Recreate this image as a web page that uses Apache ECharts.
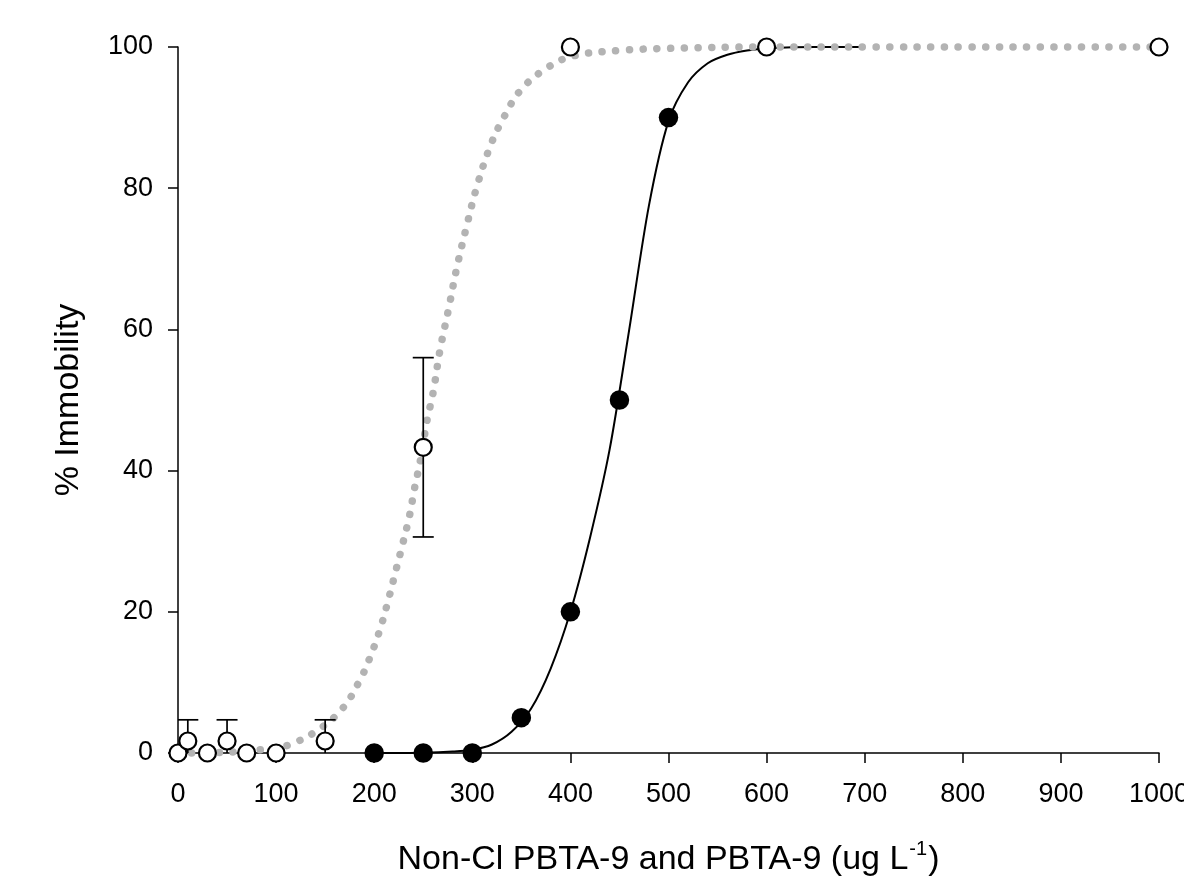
<!DOCTYPE html>
<html>
<head>
<meta charset="utf-8">
<script src="https://cdn.jsdelivr.net/npm/echarts@6/dist/echarts.min.js"></script>
<style>
html,body{margin:0;padding:0;background:#fff;}
#chart{width:1184px;height:876px;}
</style>
</head>
<body>
<div id="chart"></div>
<script>
// Non-Cl PBTA-9 (open circles) observed values
var openX = [0, 10, 30, 50, 70, 100, 150, 250, 400, 600, 1000];
var openY = [0, 1.7, 0, 1.7, 0, 0, 1.7, 43.3, 100, 100, 100];
// error bars (mean, sd) for open circles
var errX = [10, 50, 150, 250];
var errMean = [1.7, 1.7, 1.7, 43.3];
var errSd = [3.0, 3.0, 3.0, 12.7];
// PBTA-9 (filled circles) observed values
var filledX = [200, 250, 300, 350, 400, 450, 500];
var filledY = [0, 0, 0, 5, 20, 50, 90];
// fitted curve: Non-Cl PBTA-9 (grey dotted)
var greyCurveX = [0, 50, 80, 100, 112, 140, 167, 185, 197, 207, 215, 222, 229, 236, 241, 247, 254, 260, 267, 276, 284, 294, 305, 319, 332, 350, 378, 405, 450, 500, 600, 700, 800, 900, 1000];
var greyCurveY = [0, 0.1, 0.4, 0.8, 1.1, 3, 6.2, 10.2, 14, 18, 22, 25.8, 29.6, 33.6, 37.4, 41.4, 47.2, 51, 57, 63, 68.6, 74.5, 80.4, 86.2, 90, 94, 97.2, 98.8, 99.5, 99.8, 100, 100, 100, 100, 100];
// fitted curve: PBTA-9 (black solid)
var blackCurveX = [200, 250, 280, 300, 320, 340, 360, 380, 400, 420, 440, 460, 480, 500, 520, 540, 560, 580, 600, 650, 700];
var blackCurveY = [0, 0.05, 0.2, 0.45, 1.2, 3, 6.3, 12, 20, 30.5, 43, 60, 77.5, 89.5, 95, 97.7, 98.9, 99.5, 99.8, 100, 100];
// axis ticks
var xTicks = [0, 100, 200, 300, 400, 500, 600, 700, 800, 900, 1000];
var yTicks = [0, 20, 40, 60, 80, 100];

function zip(a, b) { return a.map(function (v, i) { return [v, b[i]]; }); }

var FONT = '"Liberation Sans", Arial, sans-serif';
var chart = echarts.init(document.getElementById('chart'), null, {renderer: 'canvas'});

var errData = errX.map(function (x, i) { return [x, errMean[i] - errSd[i], errMean[i] + errSd[i]]; });

var option = {
  backgroundColor: '#fff',
  animation: false,
  grid: {left: 178, right: 25, top: 47, bottom: 123, containLabel: false, outerBoundsMode: 'none'},
  xAxis: {
    type: 'value', min: xTicks[0], max: xTicks[xTicks.length - 1], interval: 100,
    axisLine: {show: true, onZero: false, lineStyle: {color: '#000', width: 1.5}},
    axisTick: {show: true, inside: false, length: 10, lineStyle: {color: '#000', width: 1.5}},
    axisLabel: {color: '#000', fontSize: 27, fontFamily: FONT, margin: 28, formatter: function (v) { return String(v); }},
    splitLine: {show: false},
    name: '{a|Non-Cl PBTA-9 and PBTA-9 (ug L}{s|-1}{a|)}',
    nameLocation: 'middle', nameGap: 86,
    nameTextStyle: {
      color: '#000', fontFamily: FONT,
      rich: {
        a: {fontSize: 34, fontFamily: FONT, color: '#000', lineHeight: 38, verticalAlign: 'bottom'},
        s: {fontSize: 20, fontFamily: FONT, color: '#000', lineHeight: 38, verticalAlign: 'top', padding: [0, 1, 0, 1]}
      }
    }
  },
  yAxis: {
    type: 'value', min: 0, max: 100, interval: 20,
    axisLine: {show: true, onZero: false, lineStyle: {color: '#000', width: 1.5}},
    axisTick: {show: true, inside: false, length: 10, lineStyle: {color: '#000', width: 1.5}},
    axisLabel: {color: '#000', fontSize: 27, fontFamily: FONT, margin: 25, formatter: function (v) { return String(v); }},
    splitLine: {show: false},
    name: '% Immobility', nameLocation: 'middle', nameGap: 92, nameRotate: 90,
    nameTextStyle: {color: '#000', fontSize: 34, fontFamily: FONT}
  },
  series: [
    {
      type: 'line', name: 'PBTA-9 fit', data: zip(blackCurveX, blackCurveY),
      showSymbol: false, symbol: 'none', smooth: 0.3, clip: false,
      lineStyle: {color: '#000', width: 2}, z: 2
    },
    {
      type: 'line', name: 'Non-Cl fit', data: zip(greyCurveX, greyCurveY),
      showSymbol: false, symbol: 'none', smooth: 0.4, clip: false,
      lineStyle: {color: '#b3b3b3', width: 7.5, type: [0.1, 13.6], cap: 'round'}, z: 3
    },
    {
      type: 'custom', name: 'err', data: errData, clip: true, z: 4,
      renderItem: function (params, api) {
        var x = api.value(0), lo = api.value(1), hi = api.value(2);
        var pLo = api.coord([x, lo]), pHi = api.coord([x, hi]);
        var hw = 10.5;
        var st = {stroke: '#000', lineWidth: 1.7, fill: null};
        return {
          type: 'group', children: [
            {type: 'line', shape: {x1: pHi[0], y1: pHi[1], x2: pLo[0], y2: pLo[1]}, style: st},
            {type: 'line', shape: {x1: pHi[0] - hw, y1: pHi[1], x2: pHi[0] + hw, y2: pHi[1]}, style: st},
            {type: 'line', shape: {x1: pLo[0] - hw, y1: pLo[1], x2: pLo[0] + hw, y2: pLo[1]}, style: st}
          ]
        };
      }
    },
    {
      type: 'scatter', name: 'PBTA-9', data: zip(filledX, filledY), clip: false,
      symbol: 'circle', symbolSize: 19.5,
      itemStyle: {color: '#000', borderColor: '#000', borderWidth: 0, opacity: 1}, z: 5
    },
    {
      type: 'scatter', name: 'Non-Cl PBTA-9', data: zip(openX, openY), clip: false,
      symbol: 'circle', symbolSize: 17,
      itemStyle: {color: '#fff', borderColor: '#000', borderWidth: 2.2, opacity: 1}, z: 6
    }
  ]
};
chart.setOption(option);
</script>
</body>
</html>
